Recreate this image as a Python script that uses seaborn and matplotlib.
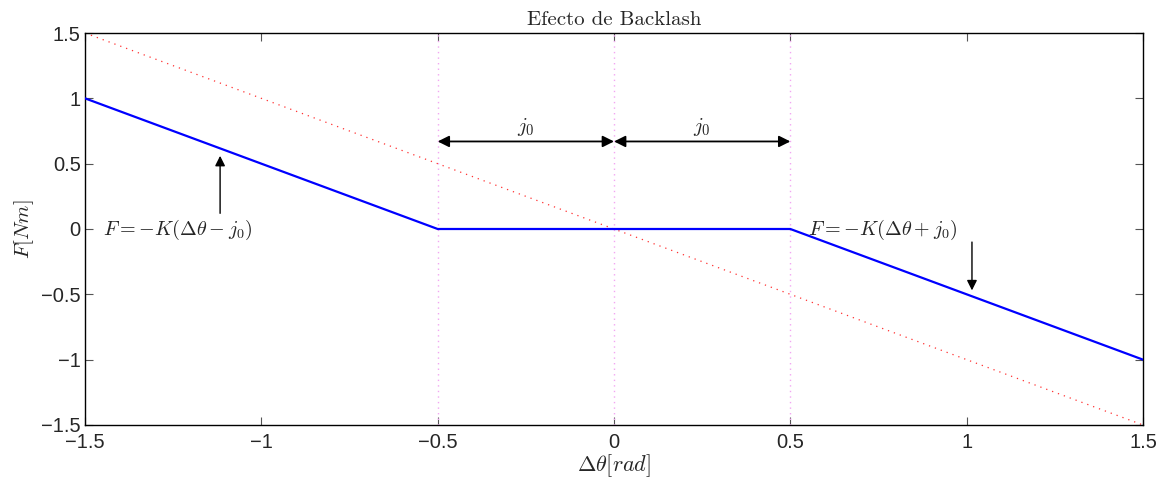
import matplotlib
matplotlib.use("Agg")
import matplotlib.pyplot as plt
import seaborn as sns
import pandas as pd

# ---- data ----
dtheta = [-1.5, -0.5, 0.5, 1.5]
force = [1.0, 0.0, 0.0, -1.0]
ref_x = [-1.5, 1.5]
ref_y = [1.5, -1.5]
vline_x = [-0.5, 0.0, 0.5]
xticks = [-1.5, -1, -0.5, 0, 0.5, 1, 1.5]
yticks = [-1.5, -1, -0.5, 0, 0.5, 1, 1.5]
tick_labels = ['\u22121.5', '\u22121', '\u22120.5', '0', '0.5', '1', '1.5']

sns.set_style("ticks")
plt.rcParams['font.family'] = ['Liberation Sans', 'DejaVu Sans']
plt.rcParams['mathtext.fontset'] = 'cm'

fig = plt.figure(figsize=(11.68, 4.82), dpi=100)
ax = fig.add_axes([0.0728, 0.1183, 0.9058, 0.8132])

for xv in vline_x:
    ax.axvline(xv, color='#f2a6f2', lw=1.0, ls=(0, (1, 3)), zorder=1)

sns.lineplot(data=pd.DataFrame({'x': ref_x, 'y': ref_y}), x='x', y='y', ax=ax,
             color='#ff3030', lw=0.9, ls=(0, (1, 4)), zorder=2)
sns.lineplot(data=pd.DataFrame({'x': dtheta, 'y': force}), x='x', y='y', ax=ax,
             color='#0000ff', lw=1.6, zorder=3, sort=False)

ax.set_xlim(-1.5, 1.5)
ax.set_ylim(-1.5, 1.5)
ax.set_xticks(xticks)
ax.set_yticks(yticks)
ax.set_xticklabels(tick_labels)
ax.set_yticklabels(tick_labels)
ax.tick_params(direction='in', length=6, width=0.8, labelsize=14.5, top=True, right=True,
               color='#555555')
ax.tick_params(axis='x', pad=6)
ax.tick_params(axis='y', pad=3)
for s in ax.spines.values():
    s.set_linewidth(1.0)
    s.set_color('black')

ax.set_xlabel(r'$\Delta\theta[rad]$', fontsize=16, labelpad=0)
ax.set_ylabel(r'$F[Nm]$', fontsize=15, labelpad=4)
ax.set_title('Efecto de Backlash', fontsize=15, family='cmr10', pad=6)

# double arrows for j0
arrow_kw = dict(arrowstyle='<|-|>', color='black', lw=1.3, mutation_scale=17, shrinkA=0, shrinkB=0)
ax.annotate('', xy=(-0.5, 0.67), xytext=(0.0, 0.67), arrowprops=arrow_kw)
ax.annotate('', xy=(0.0, 0.67), xytext=(0.5, 0.67), arrowprops=arrow_kw)
ax.text(-0.25, 0.78, r'$j_0$', fontsize=15, ha='center', va='center')
ax.text(0.25, 0.78, r'$j_0$', fontsize=15, ha='center', va='center')

# formula annotations
head_kw = dict(arrowstyle='-|>', color='black', lw=1.0, mutation_scale=15, shrinkA=0, shrinkB=0)
ax.annotate('', xy=(-1.117, 0.56), xytext=(-1.117, 0.12), arrowprops=head_kw)
ax.text(-1.238, -0.01, r'$F = -K(\Delta\theta - j_0)$', fontsize=14.5, ha='center', va='center')
ax.annotate('', xy=(1.015, -0.47), xytext=(1.015, -0.10), arrowprops=head_kw)
ax.text(0.763, -0.01, r'$F = -K(\Delta\theta + j_0)$', fontsize=14.5, ha='center', va='center')

fig.savefig('out.png', dpi=100)
